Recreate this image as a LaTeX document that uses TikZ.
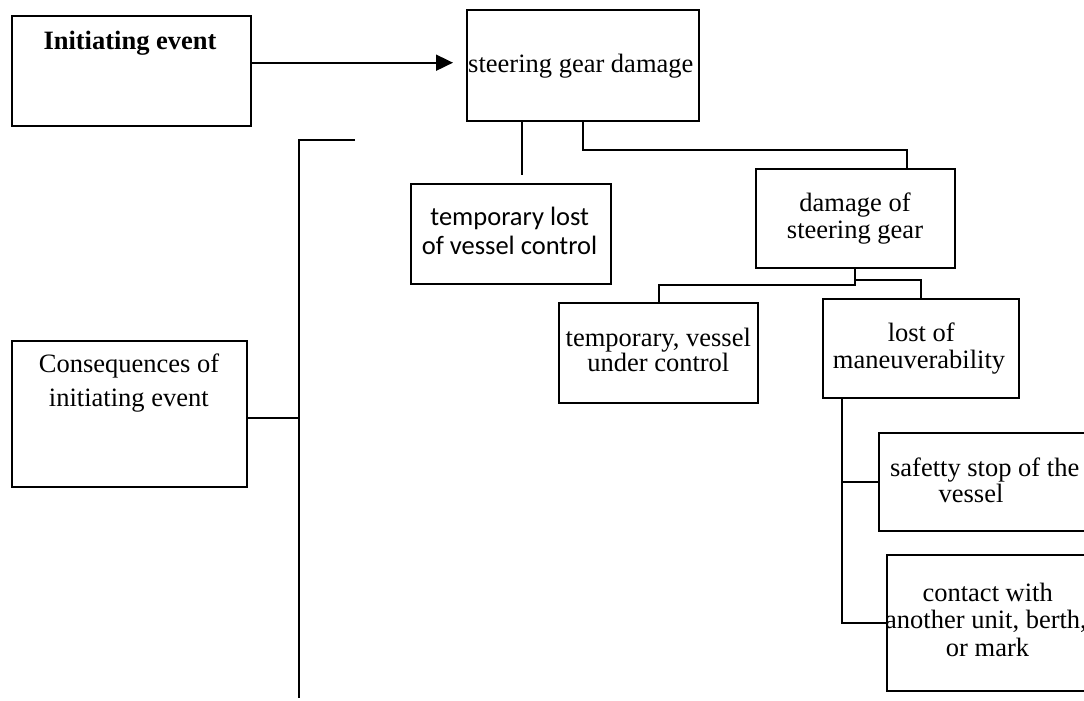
\documentclass[tikz,border=0pt]{standalone}
\usepackage{fontspec}
\setmainfont{Liberation Serif}
\newfontfamily\calfont{Carlito}
\usetikzlibrary{arrows.meta}
\tikzset{
  box/.style={draw, line width=2pt, inner sep=0pt},
  conn/.style={line width=1.8pt},
  arr/.style={line width=1.8pt, -{Triangle[length=17pt,width=16pt]}},
  txt/.style={inner sep=0pt, anchor=base, font=\fontsize{26.5}{26}\selectfont},
  stxt/.style={inner sep=0pt, anchor=base, font=\calfont\fontsize{26.5}{26}\selectfont}
}
\begin{document}
\begin{tikzpicture}[x=1pt,y=-1pt]
\useasboundingbox (0,0) rectangle (1084,701);
\clip (0,0) rectangle (1084,701);
% boxes
\node[box, minimum width=239pt, minimum height=109.7pt] (init) at (131.2,70.85) {};
\node[box, minimum width=232.3pt, minimum height=110.7pt] (steer) at (582.85,65.35) {};
\node[box, minimum width=235pt, minimum height=146.3pt] (cons) at (129.2,413.85) {};
\node[box, minimum width=199.7pt, minimum height=100.3pt] (tlost) at (510.85,234.15) {};
\node[box, minimum width=199.3pt, minimum height=98.7pt] (dmg) at (855.35,218.35) {};
\node[box, minimum width=199.3pt, minimum height=100pt] (tvc) at (658.65,353.3) {};
\node[box, minimum width=196.6pt, minimum height=99pt] (lost) at (921,348.8) {};
\node[box, minimum width=210.7pt, minimum height=97.4pt] (safe) at (984.65,482) {};
\node[box, minimum width=203.3pt, minimum height=135.7pt] (contact) at (988.35,622.85) {};
% texts
\node[txt, font=\bfseries\fontsize{26.5}{26}\selectfont] (tInit) at (130,49.3) {Initiating event};
\node[txt] (tSteer) at (580.8,72.3) {steering gear damage};
\node[txt] (tCons1) at (129,372.7) {Consequences of};
\node[txt] (tCons2) at (128.8,406) {initiating event};
\node[stxt] (tLost1) at (509.7,225) {temporary lost};
\node[stxt] (tLost2) at (509.5,254) {of vessel control};
\node[txt] (tDmg1) at (855,211.7) {damage of};
\node[txt] (tDmg2) at (855,238.3) {steering gear};
\node[txt] (tTvc1) at (658.3,346) {temporary, vessel};
\node[txt] (tTvc2) at (658.3,371.7) {under control};
\node[txt] (tMan1) at (921.3,341.7) {lost of};
\node[txt] (tMan2) at (919,368.3) {maneuverability};
\node[txt] (tSafe1) at (984.7,476.7) {safetty stop of the};
\node[txt] (tSafe2) at (971,502.7) {vessel};
\node[txt] (tCon1) at (987.7,601.7) {contact with};
\node[txt] (tCon2) at (986,628.3) {another unit, berth,};
\node[txt] (tCon3) at (987.5,656.7) {or mark};
% connectors
\draw[arr, shorten >=12.7pt] ([yshift=8.15pt]init.east) -- ([yshift=8.15pt]init.east -| steer.west);
\coordinate (brtop) at (355,140);
\coordinate (brcorner) at (299,140);
\coordinate (brbot) at (299,698);
\draw[conn] (brtop) -- (brcorner) -- (brbot);
\draw[conn] ([yshift=-4.5pt]cons.east) -- ([yshift=-4.5pt]cons.east -| brcorner);
\draw[conn, shorten >=8pt] ([xshift=-61.15pt]steer.south) -- ([xshift=-61.15pt]steer.south |- tlost.north);
\draw[conn] (steer.south) -- ++(0,28.3) -| ([xshift=51.35pt]dmg.north);
\draw[conn] (dmg.south) -- ++(0,16.3) -| (tvc.north);
\draw[conn] ([yshift=-11.6pt]dmg.south) -| (lost.north);
\coordinate (ltop) at ([xshift=-78.7pt]lost.south);
\draw[conn] (ltop) |- (contact.west);
\draw[conn] (ltop |- safe.west) -- (safe.west);
\end{tikzpicture}
\end{document}
